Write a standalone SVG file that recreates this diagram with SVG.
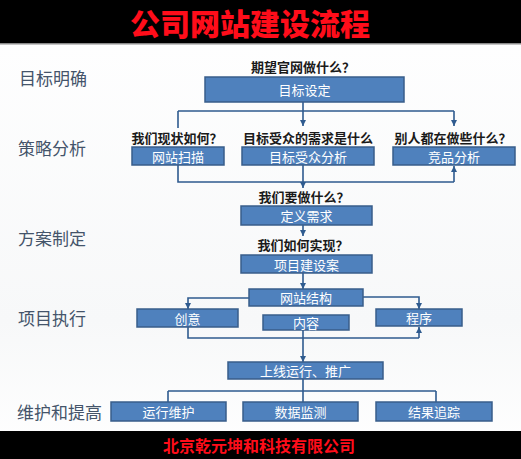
<svg xmlns="http://www.w3.org/2000/svg" width="521" height="459" viewBox="0 0 521 459">
<defs>
<marker id="arr" markerUnits="userSpaceOnUse" markerWidth="7" markerHeight="7" refX="6" refY="3.5" orient="auto">
<path d="M0,0.5 L6,3.5 L0,6.5 z" fill="#2f5b8f"/>
</marker>
<linearGradient id="bg" x1="0" y1="0" x2="0" y2="1">
<stop offset="0" stop-color="#ffffff"/>
<stop offset="0.7" stop-color="#f7f8f9"/>
<stop offset="1" stop-color="#ffffff"/>
</linearGradient>
</defs>
<style>
.box{fill:#4f81bd;stroke:#385d8a;stroke-width:1.5}
.bt{fill:#ffffff;font-family:"Noto Sans CJK SC","Noto Sans",sans-serif;font-size:13px;text-anchor:middle;dominant-baseline:central}
.q{fill:#1a1a1a;font-family:"Noto Sans CJK SC","Noto Sans",sans-serif;font-size:13px;font-weight:bold;text-anchor:middle;dominant-baseline:central}
.lab{fill:#44546a;font-family:"Noto Sans CJK SC","Noto Sans",sans-serif;font-size:17px;dominant-baseline:central}
.ln{fill:none;stroke:#2f5b8f;stroke-width:1.6}
.la{fill:none;stroke:#2f5b8f;stroke-width:1.6;marker-end:url(#arr)}
</style>
<rect x="0" y="0" width="521" height="459" fill="url(#bg)"/>
<g id="header">
<rect x="0" y="0" width="521" height="43" fill="#000000"/>
<rect x="0" y="43" width="521" height="1.5" fill="#8a8a8a"/>
<text x="250" y="22" fill="#ff0d1a" font-family="'Noto Sans CJK SC',sans-serif" font-size="30" font-weight="900" text-anchor="middle" dominant-baseline="central">公司网站建设流程</text>
</g>
<g id="footer">
<rect x="0" y="431" width="521" height="28" fill="#000000"/>
<text x="259" y="445" fill="#ff0d1a" font-family="'Noto Sans CJK SC',sans-serif" font-size="16" font-weight="bold" text-anchor="middle" dominant-baseline="central">北京乾元坤和科技有限公司</text>
</g>
<g id="stage-labels">
<text class="lab" x="19" y="77">目标明确</text>
<text class="lab" x="18" y="147">策略分析</text>
<text class="lab" x="18" y="237">方案制定</text>
<text class="lab" x="18" y="317">项目执行</text>
<text class="lab" x="17" y="411">维护和提高</text>
</g>
<g id="questions">
<text class="q" x="303" y="66">期望官网做什么？</text>
<text class="q" x="177" y="137">我们现状如何？</text>
<text class="q" x="308" y="137">目标受众的需求是什么</text>
<text class="q" x="453" y="137">别人都在做些什么？</text>
<text class="q" x="304" y="196">我们要做什么？</text>
<text class="q" x="303" y="244">我们如何实现？</text>
</g>
<g id="connectors">
<path class="ln" d="M303,102 V111 M178,111 H454 M178,111 V128"/>
<path class="la" d="M303,111 V126"/>
<path class="la" d="M454,111 V126"/>
<path class="ln" d="M178,165 V182 H454"/>
<path class="la" d="M454,182 V166"/>
<path class="la" d="M303,165 V188"/>
<path class="la" d="M303,225 V236"/>
<path class="la" d="M303,273 V289"/>
<path class="la" d="M249,298 H188 V309"/>
<path class="la" d="M363,297 H419 V309"/>
<path class="ln" d="M188,327 V338 H419"/>
<path class="la" d="M419,338 V327"/>
<path class="la" d="M303,330 V362"/>
<path class="ln" d="M303,379 V402 M168,391 H436 M168,391 V402 M436,391 V402"/>
</g>
<g id="n-goal"><rect class="box" x="205" y="77" width="199" height="25"/><text class="bt" x="304.5" y="89.5">目标设定</text></g>
<g id="n-scan"><rect class="box" x="132" y="147" width="92" height="18"/><text class="bt" x="178" y="156">网站扫描</text></g>
<g id="n-audience"><rect class="box" x="242" y="147" width="132" height="18"/><text class="bt" x="308" y="156">目标受众分析</text></g>
<g id="n-compete"><rect class="box" x="393" y="147" width="122" height="18"/><text class="bt" x="454" y="156">竞品分析</text></g>
<g id="n-define"><rect class="box" x="241" y="206" width="131" height="19"/><text class="bt" x="306.5" y="215.5">定义需求</text></g>
<g id="n-plan"><rect class="box" x="241" y="255" width="131" height="18"/><text class="bt" x="306.5" y="264">项目建设案</text></g>
<g id="n-structure"><rect class="box" x="249" y="289" width="114" height="17"/><text class="bt" x="306" y="297.5">网站结构</text></g>
<g id="n-creative"><rect class="box" x="137" y="309" width="101" height="18"/><text class="bt" x="187.5" y="318">创意</text></g>
<g id="n-content"><rect class="box" x="263" y="315" width="86" height="15"/><text class="bt" x="306" y="322.5">内容</text></g>
<g id="n-program"><rect class="box" x="376" y="309" width="86" height="17"/><text class="bt" x="419" y="317.5">程序</text></g>
<g id="n-launch"><rect class="box" x="228" y="362" width="155" height="17"/><text class="bt" x="305.5" y="370.5">上线运行、推广</text></g>
<g id="n-maintain"><rect class="box" x="111" y="402" width="115" height="19"/><text class="bt" x="168.5" y="411.5">运行维护</text></g>
<g id="n-monitor"><rect class="box" x="243" y="402" width="115" height="19"/><text class="bt" x="300.5" y="411.5">数据监测</text></g>
<g id="n-track"><rect class="box" x="376" y="402" width="116" height="19"/><text class="bt" x="434" y="411.5">结果追踪</text></g>
</svg>
